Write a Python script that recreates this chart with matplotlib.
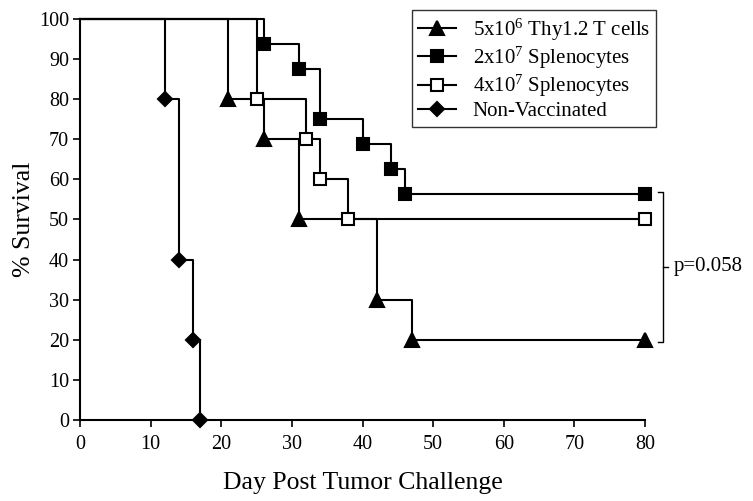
import matplotlib
matplotlib.use("Agg")
import matplotlib.pyplot as plt

# Kaplan-Meier style survival data
thy_days = [0, 21, 26, 31, 42, 47, 80]
thy_surv = [100, 80, 70, 50, 30, 20, 20]

sp2_days = [0, 26, 31, 34, 40, 44, 46, 80]
sp2_surv = [100, 93.75, 87.5, 75, 68.75, 62.5, 56.25, 56.25]

sp4_days = [0, 25, 32, 34, 38, 80]
sp4_surv = [100, 80, 70, 60, 50, 50]

nv_days = [0, 12, 14, 16, 17]
nv_surv = [100, 80, 40, 20, 0]

labels = [r"5x10$^6$ Thy1.2 T cells", r"2x10$^7$ Splenocytes",
          r"4x10$^7$ Splenocytes", "Non-Vaccinated"]
p_text = "p=0.058"

plt.rcParams["font.family"] = ["Liberation Serif", "DejaVu Serif"]
plt.rcParams["mathtext.fontset"] = "custom"
plt.rcParams["mathtext.rm"] = "Liberation Serif"
plt.rcParams["mathtext.it"] = "Liberation Serif"

fig = plt.figure(figsize=(7.53, 5.01), dpi=100)
ax = fig.add_axes([80 / 753, 81 / 501, 565 / 753, 401 / 501])

def km(days, surv, marker, fill, ms, label):
    ax.plot(days, surv, drawstyle="steps-post", color="black", lw=1.5,
            marker=marker, markersize=ms, markerfacecolor=fill,
            markeredgecolor="black", markeredgewidth=1.5,
            markevery=list(range(1, len(days))), clip_on=False,
            label=label, zorder=3)

km(thy_days, thy_surv, "^", "black", 10, labels[0])
km(sp2_days, sp2_surv, "s", "black", 9, labels[1])
km(sp4_days, sp4_surv, "s", "white", 9, labels[2])
km(nv_days, nv_surv, "D", "black", 7, labels[3])

ax.set_xlim(0, 80)
ax.set_ylim(0, 100)
ax.set_xticks(range(0, 81, 10))
ax.set_yticks(range(0, 101, 10))
ax.spines["top"].set_visible(False)
ax.spines["right"].set_visible(False)
for s in ["left", "bottom"]:
    ax.spines[s].set_linewidth(1.5)
ax.tick_params(direction="out", length=5, width=1.2, labelsize=14.5)
ax.tick_params(axis="x", pad=6)
ax.tick_params(axis="y", pad=3)

ax.set_xlabel("Day Post Tumor Challenge", fontsize=18.5, labelpad=13)
ax.set_ylabel("% Survival", fontsize=18.5, labelpad=3)

# bracket with p value
top = sp2_surv[-1] + 0.7
bot = thy_surv[-1] - 0.5
mid = (top + bot) / 2
bx = 82.5
ax.plot([81.8, bx, bx, 81.8], [top, top, bot, bot], color="black", lw=1,
        clip_on=False)
ax.plot([bx, 83.2], [mid, mid], color="black", lw=1, clip_on=False)
ax.text(84.0, mid, p_text, fontsize=15, va="center", ha="left")

leg = ax.legend(loc="upper left", bbox_to_anchor=(0.588, 1.022),
                fontsize=15, frameon=True, fancybox=False, edgecolor="black",
                handlelength=1.8, handletextpad=0.8, labelspacing=0.1,
                borderpad=0.3, borderaxespad=0)
leg.get_frame().set_linewidth(1.0)

fig.savefig("out.png", dpi=100)
